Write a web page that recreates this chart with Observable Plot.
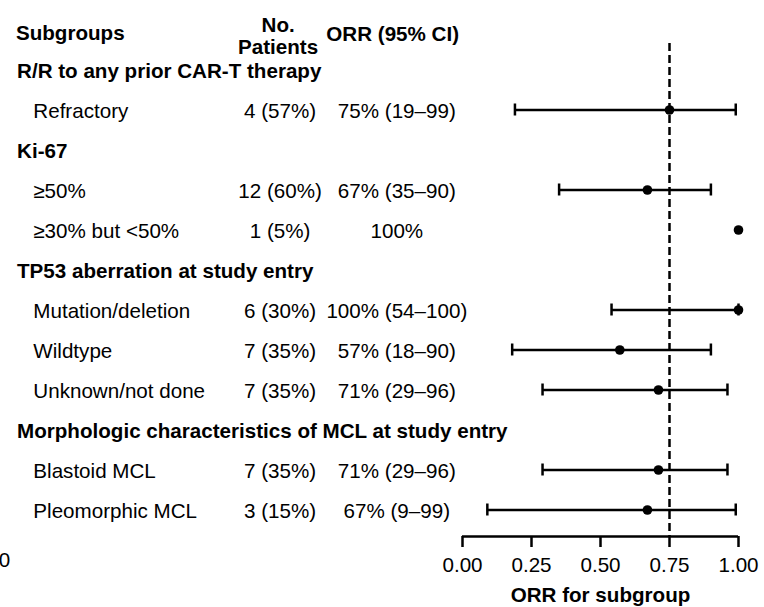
<!DOCTYPE html>
<html>
<head>
<meta charset="utf-8">
<script src="https://cdn.jsdelivr.net/npm/d3@7"></script>
<script src="https://cdn.jsdelivr.net/npm/@observablehq/plot@0.6"></script>
<style>
  html, body { margin: 0; padding: 0; background: #fff; }
  #chart svg { display: block; }
</style>
</head>
<body>
<div id="chart"></div>
<script>
// ---- data ----
const rowLabels = [
  "R/R to any prior CAR-T therapy",
  "Refractory",
  "Ki-67",
  "≥50%",
  "≥30% but <50%",
  "TP53 aberration at study entry",
  "Mutation/deletion",
  "Wildtype",
  "Unknown/not done",
  "Morphologic characteristics of MCL at study entry",
  "Blastoid MCL",
  "Pleomorphic MCL"
];
const isGroupHeader = [true, false, true, false, false, true, false, false, false, true, false, false];
const patients = ["", "4 (57%)", "", "12 (60%)", "1 (5%)", "", "6 (30%)", "7 (35%)", "7 (35%)", "", "7 (35%)", "3 (15%)"];
const orrText = ["", "75% (19–99)", "", "67% (35–90)", "100%", "", "100% (54–100)", "57% (18–90)", "71% (29–96)", "", "71% (29–96)", "67% (9–99)"];
const orrEstimate = [null, 0.75, null, 0.67, 1.00, null, 1.00, 0.57, 0.71, null, 0.71, 0.67];
const ciLower = [null, 0.19, null, 0.35, null, null, 0.54, 0.18, 0.29, null, 0.29, 0.09];
const ciUpper = [null, 0.99, null, 0.90, null, null, 1.00, 0.90, 0.96, null, 0.96, 0.99];
const referenceOrr = 0.75;
const xTicks = [0, 0.25, 0.5, 0.75, 1];
const strayTickLabel = "0";
const columnHeaders = { subgroups: "Subgroups", patients: "No.\nPatients", orr: "ORR (95% CI)" };
const xLabel = "ORR for subgroup";

// ---- table built from the arrays ----
const rows = rowLabels.map((label, i) => ({
  row: i, label, header: isGroupHeader[i],
  n: patients[i], orr: orrText[i],
  est: orrEstimate[i], lo: ciLower[i], hi: ciUpper[i]
}));
const withCI = rows.filter(d => d.lo != null);
const withEst = rows.filter(d => d.est != null);

// ---- layout ----
const FONT = "'Liberation Sans', Arial, Helvetica, sans-serif";
const FS = 20.6;
const yDomain = [11.625, -0.7];
const col = { group: -1.614, sub: -1.555, n: -0.661, orr: -0.238, head: -1.618, pat: -0.668, orrHead: -0.253, stray: -1.639 };
const capHalf = 0.15;
const barDy = -1.5;

const chart = Plot.plot({
  width: 764,
  height: 607,
  marginLeft: 462,
  marginRight: 26,
  marginTop: 43,
  marginBottom: 71,
  style: { fontFamily: FONT, fontSize: FS + "px", color: "black", background: "white" },
  x: { domain: [0, 1], axis: null },
  y: { domain: yDomain, axis: null },
  marks: [
    // reference line
    Plot.ruleX([referenceOrr], { stroke: "black", strokeWidth: 2.5, strokeDasharray: "8,4" }),
    // axis
    Plot.ruleY([yDomain[0]], { x1: xTicks[0], x2: xTicks[xTicks.length - 1], stroke: "black", strokeWidth: 2.5 }),
    Plot.axisX({ ticks: xTicks, tickFormat: d3.format(".2f"), tickSize: 11, tickPadding: 10, label: null, fontSize: FS, strokeWidth: 2.5 }),
    Plot.text([xLabel], { x: 0.5, frameAnchor: "bottom", dy: 65, fontWeight: "bold", fontSize: FS }),
    Plot.text([strayTickLabel], { x: col.stray, frameAnchor: "bottom", dy: 30, textAnchor: "end", fontSize: FS }),
    // error bars
    Plot.ruleY(withCI, { y: "row", x1: "lo", x2: "hi", stroke: "black", strokeWidth: 2.5, dy: barDy }),
    Plot.ruleX(withCI, { x: "lo", y1: d => d.row - capHalf, y2: d => d.row + capHalf, stroke: "black", strokeWidth: 2.5, dy: barDy }),
    Plot.ruleX(withCI, { x: "hi", y1: d => d.row - capHalf, y2: d => d.row + capHalf, stroke: "black", strokeWidth: 2.5, dy: barDy }),
    Plot.dot(withEst, { x: "est", y: "row", r: 4.8, fill: "black", stroke: "none", dy: barDy }),
    // column headers
    Plot.text([columnHeaders.subgroups], { x: col.head, y: [-0.95], textAnchor: "start", fontWeight: "bold", fontSize: FS }),
    Plot.text([columnHeaders.patients], { x: col.pat, y: [-0.89], lineHeight: 1.1, fontWeight: "bold", fontSize: FS }),
    Plot.text([columnHeaders.orr], { x: col.orrHead, y: [-0.93], fontWeight: "bold", fontSize: FS }),
    // table rows
    Plot.text(rows.filter(d => d.header), { x: col.group, y: "row", text: "label", textAnchor: "start", fontWeight: "bold", fontSize: FS }),
    Plot.text(rows.filter(d => !d.header), { x: col.sub, y: "row", text: "label", textAnchor: "start", fontSize: FS }),
    Plot.text(rows.filter(d => !d.header), { x: col.n, y: "row", text: "n", fontSize: FS }),
    Plot.text(rows.filter(d => !d.header), { x: col.orr, y: "row", text: "orr", fontSize: FS })
  ]
});
document.getElementById("chart").appendChild(chart);
</script>
</body>
</html>
